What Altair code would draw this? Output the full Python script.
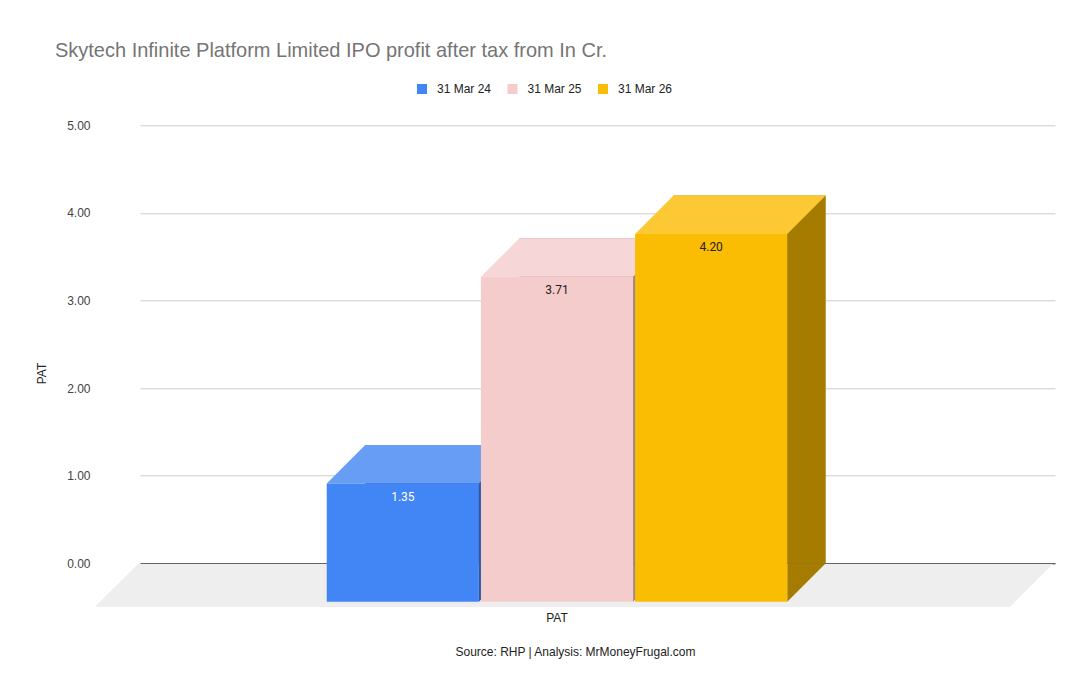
import altair as alt
import pandas as pd

# profit after tax, Rs crore
series = ["31 Mar 24", "31 Mar 25", "31 Mar 26"]
pat = [1.35, 3.71, 4.20]
metric = ["PAT", "PAT", "PAT"]

front_colors = ["#4285f4", "#f4cccc", "#fbbc04"]
top_colors = ["#689df6", "#f6d6d6", "#fcc934"]
side_colors = ["#2c58a2", "#a18787", "#a67c00"]
label_colors = ["#ffffff", "#222222", "#222222"]

FONT = "Liberation Sans"
W, H = 915, 438
D = 38.5  # 3d depth of the bars
FLOOR_DX, FLOOR_DY = 43.3, 43.7
GROUP = 460.5
ALIGN = 0.4956
PAD_OUTER = (W / GROUP - 1) / 2
PAD_INNER = 0.013

# sizes that the band scales will give, used for the slanted faces
bw = GROUP / (len(series) - PAD_INNER) * (1 - PAD_INNER)
x0 = (W - GROUP) * ALIGN
c = x0 + GROUP / 2

top_path = (f"M {-bw/2} 0 L {bw/2} 0 L {bw/2 - D} {D} "
            f"L {-bw/2 - D} {D} Z")
foot_path = f"M {bw/2 - D} 0 L {bw/2} 0 L {bw/2 - D} {D} Z"
floor_path = (f"M {-c} 0.6 L {W - c} 0.6 L {W - c - FLOOR_DX} {FLOOR_DY} "
              f"L {-c - FLOOR_DX} {FLOOR_DY} Z")

df = pd.DataFrame({"metric": metric, "series": series, "pat": pat})

x_scale = alt.Scale(paddingInner=0, paddingOuter=PAD_OUTER, align=ALIGN)
x_axis = alt.Axis(
    title="Source: RHP | Analysis: MrMoneyFrugal.com",
    labelAngle=0, ticks=False, grid=False, zindex=0,
    domainColor="#333333", labelOffset=-D, labelPadding=58,
    labelBaseline="alphabetic", labelFont=FONT, labelFontSize=12,
    labelColor="#222222", titleFont=FONT, titleFontSize=12,
    titleFontWeight="normal", titleColor="#222222",
    titleX=435, titleY=92.7, titleAlign="center",
    titleBaseline="alphabetic",
)
x_plain = alt.X("metric:N", scale=x_scale, axis=None)
xo_enc = alt.XOffset(
    "series:N",
    scale=alt.Scale(domain=series, paddingInner=PAD_INNER, paddingOuter=0),
)
# front faces: the same bars, moved down-left by the depth
x_front = alt.X(
    "series:N",
    scale=alt.Scale(domain=series, range=[x0 - D, x0 + GROUP - D],
                    paddingInner=PAD_INNER, paddingOuter=0),
    axis=None,
)
y_axis = alt.Axis(
    values=[0, 1, 2, 3, 4, 5], format=".2f", grid=True, gridColor="#cccccc",
    domain=False, ticks=False, zindex=0, labelPadding=50, labelFont=FONT,
    labelFontSize=12, labelColor="#444444",
    titleX=-98.3, titleY=247.7, titleAngle=270, titleAlign="center",
    titleBaseline="middle", titleFont=FONT, titleFontSize=12,
    titleFontWeight="normal", titleColor="#222222",
)
y_scale = alt.Scale(domain=[0, 5], nice=False)


def y_enc(field):
    return alt.Y(field, title="PAT", scale=y_scale, axis=y_axis)


def color(rng, legend=None):
    return alt.Color("series:N", scale=alt.Scale(domain=series, range=rng),
                     legend=legend)


base = alt.Chart(df)

floor = base.transform_filter(alt.datum.series == series[0]).transform_calculate(
    zero="0"
).mark_point(shape=floor_path, size=4, filled=True, opacity=1, color="#eeeeee").encode(
    x=x_plain, y=y_enc("zero:Q")
)

back = base.mark_bar(opacity=1).encode(
    x=alt.X("metric:N", scale=x_scale, axis=x_axis), xOffset=xo_enc,
    y=y_enc("pat:Q"), color=color(side_colors),
)

tops = base.mark_point(shape=top_path, size=4, filled=True, opacity=1).encode(
    x=x_plain, xOffset=xo_enc, y=y_enc("pat:Q"), color=color(top_colors),
)

feet = base.transform_calculate(zero="0").mark_point(
    shape=foot_path, size=4, filled=True, opacity=1
).encode(
    x=x_plain, xOffset=xo_enc, y=y_enc("zero:Q"), color=color(side_colors),
)

front = base.mark_bar(opacity=1, yOffset=D, y2Offset=D).encode(
    x=x_front,
    y=y_enc("pat:Q"),
    color=color(front_colors, alt.Legend(
        orient="none", legendX=276, legendY=-42.3, direction="horizontal",
        title=None, symbolType="square", symbolSize=100,
        symbolStrokeWidth=0, labelFont=FONT, labelFontSize=12,
        labelColor="#222222", labelOffset=9, columnPadding=14.5, padding=0,
    )),
)

labels = base.mark_text(dx=-D, dy=52, font="Roboto", fontSize=12).encode(
    x=x_plain, xOffset=xo_enc, y=y_enc("pat:Q"),
    text=alt.Text("pat:Q", format=".2f"),
    color=color(label_colors),
)

chart = (
    alt.layer(floor, back, tops, feet, front, labels)
    .resolve_scale(color="independent", x="independent")
    .properties(
        width=W, height=H,
        autosize=alt.AutoSizeParams(type="none"),
        padding={"left": 132, "top": 117.3, "right": 27, "bottom": 110},
        background="white",
        title=alt.TitleParams(
            "Skytech Infinite Platform Limited IPO profit after tax from In Cr.",
            anchor="start", frame="group", dx=-85, dy=-18, font=FONT,
            fontSize=20, fontWeight="normal", color="#757575",
        ),
    )
    .configure_view(stroke=None)
)

chart.save("out.html", embed_options={"renderer": "svg", "actions": False})
